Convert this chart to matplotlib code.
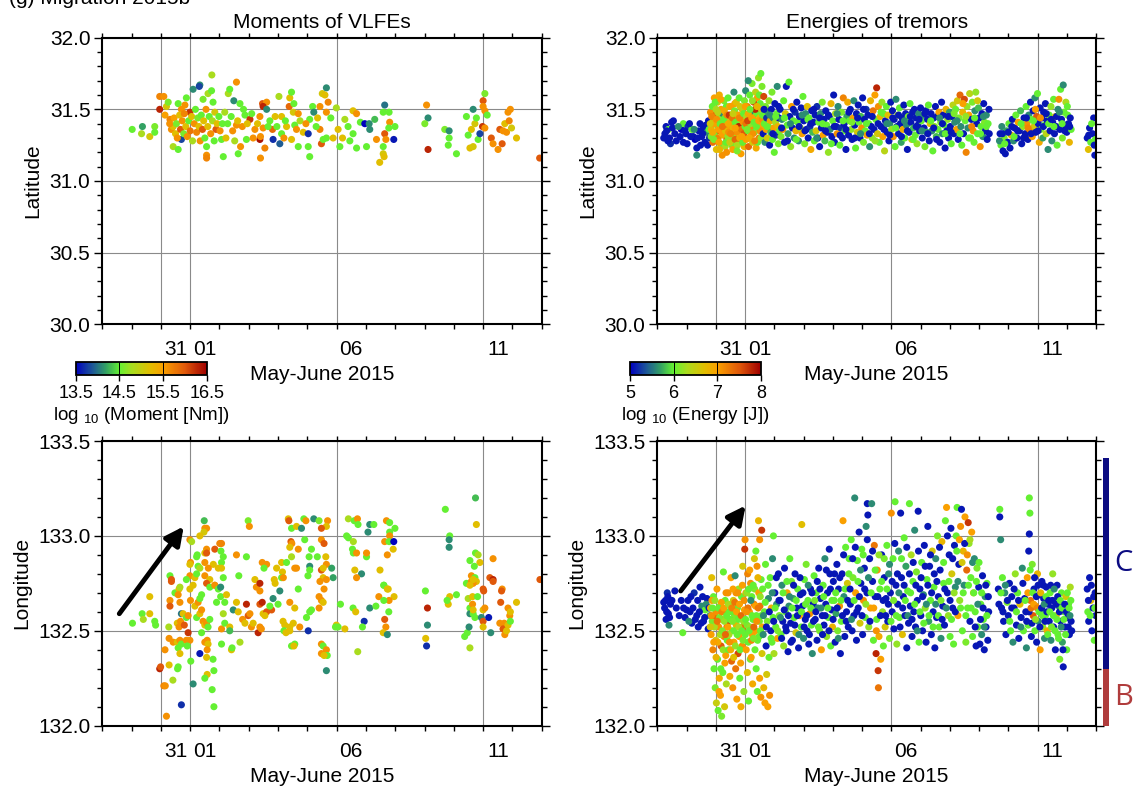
import numpy as np
import matplotlib.pyplot as plt
import matplotlib.transforms as mtransforms
from matplotlib.colors import LinearSegmentedColormap, Normalize
from matplotlib.cm import ScalarMappable
from matplotlib.patches import Rectangle
from matplotlib.ticker import FixedLocator, FixedFormatter, MultipleLocator, FormatStrFormatter

plt.rcParams['font.family'] = ['Liberation Sans', 'DejaVu Sans']
plt.rcParams['mathtext.fontset'] = 'custom'
plt.rcParams['mathtext.rm'] = 'Liberation Sans'
plt.rcParams['mathtext.it'] = 'Liberation Sans:italic'
plt.rcParams['mathtext.bf'] = 'Liberation Sans:bold'

# time axis in days relative to 2015-06-01 00:00
day_limits = (-3, 12)
day_grid = [-1, 0, 5, 10]
day_labels = ['31', '01', '06', '11']

lat_limits = (30.0, 32.0)
lon_limits = (132.0, 133.5)

moment_range = (13.5, 16.5)
moment_ticks = [13.5, 14.5, 15.5, 16.5]
energy_range = (5, 8)
energy_ticks = [5, 6, 7, 8]

# along-strike segments beside the tremor longitude panel
segment_names = ['B', 'C']
segment_edges = [132.0, 132.30, 133.41]
segment_colors = ['#b03c3c', '#0c0c82']

# migration arrows (day, longitude): tail, head
vlfe_arrow = [(-2.42, 132.59), (-0.22, 133.05)]
tremor_arrow = [(-2.20, 132.71), (0.02, 133.16)]

# VLFEs: (day, latitude, log10 moment)
vlfe_lat_pts = [
    (-1.98, 31.36, 14.5), (-1.66, 31.33, 14.8), (-1.63, 31.38, 14.2), (-1.38, 31.31, 15.1),
    (-1.21, 31.38, 14.6), (-1.21, 31.34, 14.5), (-1.04, 31.59, 15.7), (-0.90, 31.59, 15.6),
    (-1.04, 31.50, 16.3), (-0.86, 31.46, 15.5), (-0.81, 31.52, 15.1), (-0.75, 31.55, 14.6),
    (-0.69, 31.43, 15.7), (-0.64, 31.36, 15.6), (-0.58, 31.38, 15.2), (-0.58, 31.24, 14.8),
    (-0.41, 31.22, 14.5), (-0.41, 31.54, 14.5), (-0.30, 31.50, 15.6), (-0.18, 31.53, 15.6),
    (-0.13, 31.58, 14.5), (-0.30, 31.29, 13.8), (-0.01, 31.48, 16.2), (0.10, 31.64, 14.1),
    (0.33, 31.67, 14.1), (0.31, 31.66, 13.8), (0.44, 31.57, 14.6), (0.61, 31.61, 14.8),
    (0.73, 31.63, 14.5), (0.74, 31.74, 14.8), (0.78, 31.55, 14.5), (0.84, 31.48, 15.1),
    (0.88, 31.36, 16.0), (0.56, 31.24, 14.5), (0.56, 31.18, 15.6), (0.56, 31.16, 15.7),
    (1.07, 31.29, 14.5), (1.13, 31.17, 14.5), (1.30, 31.61, 14.8), (1.35, 31.64, 14.5),
    (1.49, 31.56, 14.1), (1.58, 31.69, 15.6), (1.58, 31.39, 15.6), (1.70, 31.54, 14.5),
    (1.87, 31.46, 14.5), (2.04, 31.43, 16.2), (1.92, 31.29, 14.5), (1.72, 31.24, 15.6),
    (1.64, 31.19, 14.5), (2.21, 31.36, 15.6), (2.38, 31.45, 15.6), (2.47, 31.54, 16.0),
    (2.61, 31.55, 15.6), (2.49, 31.52, 16.3), (2.61, 31.50, 14.1), (2.38, 31.29, 16.4),
    (2.40, 31.31, 15.6), (2.49, 31.37, 15.6), (2.40, 31.16, 15.6), (2.55, 31.23, 15.7),
    (2.72, 31.42, 14.5), (2.83, 31.29, 13.7), (2.81, 31.36, 15.9), (3.03, 31.59, 14.8),
    (3.12, 31.45, 15.2), (3.12, 31.33, 14.5), (3.06, 31.26, 13.9), (3.29, 31.38, 15.2),
    (3.38, 31.52, 15.9), (3.40, 31.58, 15.2), (3.46, 31.62, 14.5), (3.54, 31.54, 14.5),
    (3.52, 31.48, 15.1), (3.69, 31.47, 15.6), (3.57, 31.39, 14.5), (3.63, 31.36, 15.6),
    (3.46, 31.29, 15.2), (3.69, 31.24, 14.5), (3.86, 31.34, 15.2), (4.03, 31.33, 13.7),
    (4.03, 31.24, 14.5), (4.08, 31.17, 14.5), (4.08, 31.43, 14.5), (4.18, 31.52, 14.5),
    (4.22, 31.48, 14.1), (4.43, 31.52, 15.6), (4.51, 31.61, 15.1), (4.65, 31.65, 14.1),
    (4.65, 31.48, 15.6), (4.60, 31.60, 15.2), (4.71, 31.55, 15.7), (4.43, 31.36, 15.7),
    (4.48, 31.26, 16.0), (4.54, 31.29, 14.5), (4.65, 31.30, 14.5), (4.88, 31.30, 15.2),
    (4.99, 31.51, 14.8), (5.05, 31.36, 15.2), (5.11, 31.24, 14.5), (5.28, 31.43, 14.8),
    (5.39, 31.38, 14.5), (5.56, 31.49, 15.2), (5.68, 31.47, 15.6), (5.56, 31.33, 14.5),
    (5.68, 31.23, 14.5), (5.81, 31.41, 14.5), (5.96, 31.40, 13.5), (6.11, 31.40, 14.1),
    (6.13, 31.36, 14.1), (6.30, 31.43, 14.3), (6.02, 31.24, 14.5), (6.36, 31.29, 15.6),
    (6.64, 31.53, 14.0), (6.59, 31.48, 14.5), (6.79, 31.48, 14.5), (6.64, 31.33, 16.0),
    (6.68, 31.29, 15.6), (6.81, 31.41, 15.6), (6.78, 31.37, 14.5), (6.95, 31.29, 13.6),
    (6.99, 31.38, 14.5), (6.59, 31.19, 15.1), (6.62, 31.17, 15.2), (6.59, 31.24, 14.5),
    (6.47, 31.13, 15.2), (8.07, 31.53, 15.6), (8.12, 31.44, 14.1), (8.01, 31.40, 14.6),
    (8.12, 31.22, 16.3), (8.69, 31.36, 14.6), (8.84, 31.35, 14.1), (8.84, 31.30, 14.5),
    (8.81, 31.25, 14.5), (9.09, 31.19, 14.5), (9.43, 31.45, 14.5), (9.66, 31.50, 14.1),
    (9.72, 31.40, 15.1), (9.60, 31.36, 15.2), (9.49, 31.32, 14.5), (9.55, 31.23, 15.2),
    (9.66, 31.24, 15.1), (9.83, 31.29, 14.5), (9.77, 31.44, 14.5), (10.06, 31.61, 14.6),
    (10.00, 31.56, 16.0), (10.00, 31.52, 15.6), (10.06, 31.49, 15.6), (10.14, 31.46, 14.5),
    (9.98, 31.38, 16.2), (9.89, 31.33, 13.8), (10.06, 31.37, 15.6), (10.28, 31.30, 16.0),
    (10.34, 31.26, 15.6), (10.51, 31.22, 15.6), (10.65, 31.26, 16.0), (10.74, 31.40, 15.2),
    (10.85, 31.48, 15.6), (10.93, 31.50, 15.6), (10.89, 31.42, 15.7), (10.57, 31.36, 16.0),
    (10.68, 31.35, 15.6), (10.80, 31.34, 15.6), (10.97, 31.37, 15.1), (11.14, 31.30, 15.2),
    (11.93, 31.16, 16.0),
    (-0.70, 31.40, 15.6), (-0.55, 31.44, 15.5), (-0.50, 31.33, 15.2), (-0.47, 31.40, 14.6),
    (-0.44, 31.30, 15.6), (-0.36, 31.46, 15.2), (-0.33, 31.36, 16.0), (-0.27, 31.42, 15.6),
    (-0.22, 31.33, 14.6), (-0.20, 31.47, 15.7), (-0.15, 31.38, 15.2), (-0.10, 31.31, 15.6),
    (-0.05, 31.42, 14.5), (0.00, 31.35, 15.8), (0.05, 31.45, 15.2), (0.08, 31.28, 14.8),
    (0.14, 31.40, 15.6), (0.18, 31.50, 14.5), (0.22, 31.34, 15.7), (0.26, 31.44, 14.6),
    (0.30, 31.38, 15.2), (0.34, 31.28, 15.6), (0.38, 31.46, 14.5), (0.42, 31.36, 16.0),
    (0.46, 31.42, 15.2), (0.50, 31.30, 14.5), (0.54, 31.50, 15.6), (0.60, 31.38, 15.2),
    (0.65, 31.45, 14.5), (0.70, 31.33, 15.6), (0.76, 31.42, 14.8), (0.82, 31.28, 14.5),
    (0.92, 31.40, 15.2), (0.98, 31.45, 14.5), (1.02, 31.35, 15.6), (1.10, 31.40, 14.5),
    (1.18, 31.48, 14.8), (1.22, 31.30, 15.2), (1.28, 31.40, 14.5), (1.40, 31.45, 14.5),
    (1.45, 31.35, 15.6), (1.52, 31.28, 14.8), (1.62, 31.42, 15.2), (1.78, 31.38, 15.6),
    (1.82, 31.50, 14.5), (1.95, 31.40, 15.2), (2.10, 31.47, 14.5), (2.15, 31.30, 15.6),
    (2.30, 31.40, 15.2), (2.66, 31.38, 14.5), (2.90, 31.45, 15.2), (2.96, 31.38, 14.5),
    (3.20, 31.30, 15.6), (3.25, 31.42, 14.5), (3.75, 31.42, 14.8), (3.95, 31.40, 15.6),
    (4.30, 31.38, 14.5), (4.35, 31.44, 15.2), (4.80, 31.44, 14.5), (5.20, 31.30, 15.2),
    (5.45, 31.28, 14.5),
]

# VLFEs: (day, longitude, log10 moment)
vlfe_lon_pts = [
    (0.48, 133.08, 14.3), (0.50, 133.04, 15.6), (0.56, 133.04, 15.6), (0.47, 133.02, 15.1),
    (0.33, 133.00, 15.2), (-0.01, 132.98, 15.6), (0.05, 132.97, 14.8), (1.01, 132.96, 15.7),
    (1.07, 132.96, 15.7), (0.56, 132.93, 15.6), (0.84, 132.93, 16.0), (1.05, 132.92, 14.5),
    (0.24, 132.90, 14.5), (0.22, 132.89, 14.5), (0.50, 132.91, 15.2), (0.56, 132.91, 16.0),
    (1.13, 132.89, 14.5), (1.07, 132.86, 14.5), (0.01, 132.86, 15.6), (-0.01, 132.85, 15.2),
    (0.27, 132.84, 14.5), (0.33, 132.83, 14.8), (0.50, 132.86, 15.6), (0.79, 132.85, 15.2),
    (1.07, 132.83, 15.2), (0.96, 132.83, 15.2), (0.62, 132.83, 15.6), (-0.69, 132.79, 14.5),
    (-0.64, 132.77, 16.0), (-0.01, 132.79, 15.6), (0.16, 132.78, 15.2), (0.22, 132.80, 14.5),
    (0.50, 132.79, 15.6), (0.67, 132.77, 15.2), (1.13, 132.78, 14.5), (-0.13, 132.77, 14.5),
    (0.56, 132.75, 16.0), (0.84, 132.74, 15.6),
    (1.98, 133.08, 14.6), (2.02, 133.05, 15.6), (1.58, 132.90, 15.6), (1.92, 132.89, 14.5),
    (1.66, 132.79, 14.5), (2.46, 132.86, 15.6), (2.61, 132.85, 15.6), (2.52, 132.83, 14.5),
    (3.12, 132.86, 15.2), (2.95, 132.83, 15.2), (3.15, 132.81, 15.2), (3.29, 132.86, 14.5),
    (3.35, 133.09, 15.2), (3.37, 133.08, 16.0), (3.46, 133.04, 14.5), (3.63, 133.05, 15.2),
    (3.88, 133.09, 14.5), (3.95, 133.08, 15.6), (3.80, 133.04, 14.1), (4.22, 133.09, 14.1),
    (4.40, 133.08, 14.6), (4.69, 133.08, 15.6), (4.65, 133.05, 15.2), (4.48, 133.04, 16.0),
    (3.44, 132.97, 16.0), (3.47, 132.96, 15.6), (3.40, 132.94, 15.2), (3.69, 132.93, 15.6),
    (3.46, 132.89, 14.8), (3.91, 132.98, 14.5), (4.48, 132.98, 15.6), (4.57, 132.96, 16.0),
    (4.14, 132.93, 14.5), (4.06, 132.89, 14.5), (4.34, 132.89, 14.5), (4.63, 132.89, 15.2),
    (4.08, 132.84, 14.1), (4.08, 132.82, 14.5), (4.02, 132.79, 14.5), (4.48, 132.82, 16.0),
    (4.65, 132.85, 15.6), (4.54, 132.83, 15.2), (3.57, 132.83, 15.6), (3.63, 132.83, 15.6),
    (3.12, 132.78, 14.5), (2.90, 132.75, 15.2), (3.18, 132.78, 15.6),
    (4.83, 132.83, 14.2), (4.88, 132.78, 14.2), (4.54, 132.78, 15.2), (4.43, 132.76, 15.6),
    (5.40, 133.09, 14.8), (5.60, 133.08, 14.5), (5.71, 133.09, 15.6), (5.73, 133.06, 14.5),
    (5.34, 133.00, 14.5), (5.40, 132.99, 14.5), (5.57, 132.97, 14.8), (5.54, 132.93, 14.5),
    (5.57, 132.91, 14.5), (5.68, 132.91, 15.6), (6.02, 132.89, 14.5), (6.02, 132.91, 15.6),
    (5.62, 132.82, 15.2), (5.85, 132.80, 14.1), (5.68, 132.78, 15.6), (6.48, 132.82, 15.2),
    (6.07, 133.02, 14.1), (6.13, 133.06, 14.1), (6.27, 133.06, 14.5),
    (6.70, 133.08, 15.6), (6.81, 133.07, 14.5), (6.99, 133.04, 14.5), (6.81, 133.02, 14.5),
    (6.81, 133.00, 15.6), (6.64, 132.97, 15.6), (6.79, 132.97, 14.5), (6.95, 132.97, 13.5),
    (6.93, 132.93, 15.2), (6.73, 132.90, 15.6), (6.61, 132.74, 14.5), (6.76, 132.72, 15.2),
    (8.71, 133.14, 14.5), (8.86, 133.00, 14.5), (8.84, 132.98, 14.1), (8.84, 132.94, 14.1),
    (9.74, 133.20, 14.3), (9.77, 133.06, 15.2), (9.74, 132.91, 14.5), (9.83, 132.90, 14.8),
    (9.55, 132.87, 14.5), (9.89, 132.86, 15.2), (9.70, 132.84, 14.5), (10.34, 132.88, 15.6),
    (9.60, 132.79, 15.6), (9.72, 132.78, 14.5), (9.77, 132.76, 15.2), (9.66, 132.75, 15.6),
    (9.43, 132.75, 14.5), (10.23, 132.78, 16.0), (10.34, 132.77, 16.3), (10.00, 132.72, 16.0),
    (10.65, 132.72, 15.6), (11.94, 132.77, 16.0),
    (-1.97, 132.54, 14.5), (-1.64, 132.59, 14.5), (-1.60, 132.56, 14.8), (-1.38, 132.68, 15.2),
    (-1.38, 132.59, 15.2), (-1.21, 132.55, 14.5), (-1.18, 132.53, 14.5), (-0.73, 132.52, 14.8),
    (-0.72, 132.46, 15.6), (-0.69, 132.66, 15.6), (-0.69, 132.63, 16.0), (-0.64, 132.76, 16.0),
    (-0.52, 132.70, 14.5), (-0.38, 132.72, 15.2), (-0.35, 132.73, 14.8), (-0.41, 132.69, 15.6),
    (-0.35, 132.65, 15.6), (-0.30, 132.59, 14.0), (-0.44, 132.54, 15.2), (-0.38, 132.52, 15.6),
    (-0.33, 132.55, 15.6), (-0.58, 132.44, 15.6), (-0.44, 132.44, 15.2), (-0.35, 132.45, 15.6),
    (-0.30, 132.43, 14.5), (-0.41, 132.41, 14.5), (-0.35, 132.38, 15.2), (-0.86, 132.40, 15.6),
    (-0.72, 132.32, 15.2), (-1.04, 132.30, 16.3), (-1.01, 132.31, 16.0), (-0.90, 132.21, 15.7),
    (-0.85, 132.21, 15.6), (-0.81, 132.05, 15.6), (-0.59, 132.24, 14.8), (-0.43, 132.30, 14.5),
    (-0.41, 132.31, 14.5), (-0.30, 132.11, 13.7), (-0.24, 132.59, 15.2), (-0.13, 132.57, 14.5),
    (-0.07, 132.58, 15.6), (-0.20, 132.53, 16.0), (-0.07, 132.49, 16.2), (-0.13, 132.45, 15.6),
    (-0.01, 132.45, 15.6), (-0.10, 132.42, 14.5), (0.02, 132.34, 14.5), (0.10, 132.22, 14.1),
    (0.01, 132.66, 15.6), (-0.01, 132.72, 15.2), (0.10, 132.74, 15.2), (0.16, 132.63, 15.2),
    (0.27, 132.65, 15.6), (0.33, 132.67, 14.5), (0.39, 132.69, 14.5), (0.22, 132.57, 14.5),
    (0.33, 132.59, 15.2), (0.39, 132.61, 15.6), (0.44, 132.55, 15.6), (0.50, 132.53, 15.2),
    (0.56, 132.54, 15.6), (0.67, 132.56, 14.5), (0.61, 132.52, 14.5), (0.39, 132.49, 14.5),
    (0.50, 132.44, 15.6), (0.58, 132.45, 15.6), (0.61, 132.43, 15.2), (0.33, 132.38, 13.6),
    (0.58, 132.40, 15.6), (0.56, 132.36, 15.2), (0.78, 132.35, 14.5), (0.58, 132.27, 15.2),
    (0.50, 132.25, 14.5), (0.81, 132.29, 14.5), (0.75, 132.19, 14.5), (0.81, 132.10, 14.5),
    (0.67, 132.73, 14.5), (0.84, 132.74, 15.6), (0.96, 132.72, 14.5), (0.90, 132.65, 14.5),
    (1.04, 132.73, 14.1), (1.04, 132.68, 14.5), (1.07, 132.51, 15.6), (1.13, 132.59, 14.8),
    (1.18, 132.54, 14.5), (1.07, 132.43, 14.5), (1.24, 132.69, 15.2), (1.18, 132.65, 14.5),
    (1.35, 132.52, 15.2), (1.35, 132.50, 14.3), (1.41, 132.40, 15.2), (1.43, 132.41, 14.5),
    (1.47, 132.61, 14.1), (1.58, 132.65, 15.2), (1.64, 132.60, 15.2), (1.70, 132.44, 14.8),
    (1.79, 132.56, 15.6), (1.92, 132.64, 16.3), (1.87, 132.54, 15.2), (1.98, 132.58, 16.0),
    (2.04, 132.59, 15.6), (2.09, 132.52, 15.6), (2.15, 132.54, 15.2), (2.21, 132.77, 15.2),
    (2.26, 132.73, 15.6), (2.38, 132.75, 16.3), (2.38, 132.71, 15.6), (2.32, 132.49, 16.3),
    (2.38, 132.52, 15.6), (2.43, 132.51, 15.6), (2.38, 132.64, 16.0), (2.46, 132.65, 16.3),
    (2.49, 132.59, 15.2), (2.61, 132.60, 16.0), (2.55, 132.58, 15.2), (2.78, 132.61, 16.0),
    (2.72, 132.63, 14.5), (2.83, 132.67, 14.1), (2.87, 132.77, 15.2), (3.06, 132.71, 14.1),
    (3.00, 132.64, 14.5),
    (3.17, 132.55, 15.2), (3.23, 132.53, 15.2), (3.20, 132.50, 14.5), (3.27, 132.49, 15.2),
    (3.40, 132.52, 15.2), (3.52, 132.54, 15.2), (3.40, 132.50, 15.2), (3.40, 132.65, 15.6),
    (3.57, 132.62, 15.2), (3.69, 132.72, 14.5), (3.74, 132.52, 15.6), (3.46, 132.42, 14.5),
    (3.57, 132.43, 14.5), (3.54, 132.42, 15.2), (4.03, 132.50, 13.7), (3.97, 132.57, 14.5),
    (4.08, 132.60, 14.5), (4.14, 132.61, 14.5), (4.40, 132.68, 15.6), (4.48, 132.66, 15.6),
    (4.40, 132.62, 15.6), (4.54, 132.65, 15.2), (4.57, 132.72, 15.6), (4.65, 132.77, 15.6),
    (4.48, 132.43, 15.6), (4.48, 132.38, 15.6), (4.54, 132.42, 14.5), (4.65, 132.40, 15.6),
    (4.68, 132.37, 14.5), (4.57, 132.37, 15.2), (4.65, 132.29, 14.1),
    (4.99, 132.53, 15.2), (4.96, 132.52, 14.5), (5.05, 132.52, 14.5), (5.13, 132.64, 14.5),
    (5.28, 132.51, 15.2), (5.56, 132.62, 14.5), (5.65, 132.60, 15.2), (5.94, 132.55, 13.7),
    (5.72, 132.39, 14.8), (5.88, 132.52, 14.5), (6.13, 132.62, 14.1), (6.34, 132.63, 14.5),
    (6.44, 132.68, 15.6), (6.61, 132.74, 14.5), (6.73, 132.72, 15.2), (6.96, 132.68, 15.2),
    (6.79, 132.66, 15.6), (6.61, 132.66, 14.5), (6.78, 132.60, 14.5), (6.64, 132.56, 16.0),
    (6.68, 132.52, 15.6), (6.59, 132.49, 15.2), (6.73, 132.48, 14.1),
    (8.03, 132.71, 14.5), (8.10, 132.62, 16.3), (8.10, 132.53, 14.1), (8.04, 132.46, 15.2),
    (8.07, 132.42, 13.7),
    (8.86, 132.68, 15.2), (9.09, 132.69, 14.5), (8.81, 132.64, 15.2), (8.77, 132.66, 14.5),
    (9.37, 132.47, 14.5), (9.46, 132.49, 14.5), (9.55, 132.41, 14.8), (9.55, 132.62, 14.5),
    (9.55, 132.59, 14.1), (9.52, 132.52, 14.1), (9.66, 132.59, 14.5), (9.72, 132.57, 14.5),
    (9.49, 132.67, 14.8), (9.64, 132.68, 15.2), (9.81, 132.68, 14.5), (9.64, 132.64, 15.6),
    (9.66, 132.61, 15.2), (9.60, 132.76, 15.6), (9.55, 132.74, 15.2), (9.66, 132.77, 15.2),
    (10.02, 132.71, 16.0), (10.34, 132.76, 16.0), (10.00, 132.61, 15.2), (10.06, 132.62, 15.6),
    (9.94, 132.57, 14.1), (10.00, 132.55, 16.0), (10.19, 132.57, 13.6), (10.26, 132.49, 14.1),
    (10.63, 132.71, 16.0), (10.60, 132.65, 16.0), (10.85, 132.62, 15.6), (10.91, 132.58, 15.6),
    (10.93, 132.60, 15.2), (11.14, 132.65, 15.2), (10.57, 132.54, 15.6), (10.72, 132.54, 15.6),
    (10.68, 132.51, 16.0), (10.74, 132.48, 15.6), (10.80, 132.50, 15.2), (10.85, 132.53, 15.2),
    (10.93, 132.55, 14.5), (10.00, 132.52, 15.2),
]

# tremors: (day, latitude, log10 energy)
tremor_lat_pts = [
    (-2.74, 31.33, 5.1), (-2.70, 31.38, 5.1), (-2.62, 31.36, 6.0), (-2.58, 31.30, 5.1),
    (-2.55, 31.26, 5.2), (-2.51, 31.41, 5.1), (-2.45, 31.42, 5.1), (-2.40, 31.33, 5.1),
    (-2.18, 31.36, 5.0), (-2.11, 31.40, 6.0), (-2.11, 31.27, 5.1), (-2.02, 31.33, 5.1),
    (-1.95, 31.38, 5.2), (-1.82, 31.36, 6.0), (-1.77, 31.31, 5.1), (-1.71, 31.29, 5.0),
    (-1.65, 31.23, 5.1), (-1.65, 31.18, 5.6), (-1.58, 31.35, 5.1), (-1.54, 31.40, 5.1),
    (-1.48, 31.31, 5.1), (-1.42, 31.37, 5.1), (-1.37, 31.27, 5.1), (-1.30, 31.34, 5.6),
    (-1.25, 31.42, 5.1), (-1.22, 31.30, 5.2),
    (-2.78, 31.30, 5.1), (-2.68, 31.35, 5.1), (-2.64, 31.28, 5.1), (-2.48, 31.37, 5.1),
    (-2.35, 31.28, 5.1), (-2.28, 31.38, 5.6), (-2.22, 31.31, 5.1), (-2.06, 31.35, 5.1),
    (-1.98, 31.26, 5.1), (-1.90, 31.40, 5.1), (-1.86, 31.31, 5.1), (-1.74, 31.36, 5.6),
    (-1.62, 31.30, 5.1), (-1.52, 31.25, 5.1), (-1.45, 31.33, 5.1), (-1.34, 31.39, 5.1),
    (-1.28, 31.25, 5.1), (-1.23, 31.36, 6.0),
    (-1.18, 31.48, 7.1), (-1.15, 31.36, 6.8), (-1.12, 31.52, 6.0), (-1.10, 31.27, 7.3),
    (-1.08, 31.42, 6.5), (-1.05, 31.58, 7.0), (-1.03, 31.33, 6.1), (-1.00, 31.46, 7.4),
    (-0.98, 31.22, 6.7), (-0.96, 31.39, 6.0), (-0.94, 31.55, 6.6), (-0.92, 31.30, 7.2),
    (-0.90, 31.44, 6.2), (-0.88, 31.60, 6.9), (-0.86, 31.35, 7.6), (-0.84, 31.26, 6.0),
    (-0.82, 31.50, 7.0), (-0.80, 31.40, 6.4), (-0.78, 31.18, 7.1), (-0.76, 31.47, 5.6),
    (-0.74, 31.32, 6.9), (-0.72, 31.56, 6.1), (-0.70, 31.38, 7.3), (-0.68, 31.24, 6.3),
    (-0.66, 31.45, 7.0), (-0.64, 31.52, 6.0), (-0.62, 31.29, 7.5), (-0.60, 31.41, 6.6),
    (-1.16, 31.31, 6.1), (-1.06, 31.40, 7.0), (-0.99, 31.50, 6.3), (-0.91, 31.36, 7.0),
    (-0.87, 31.22, 6.8), (-0.79, 31.33, 7.0), (-0.73, 31.43, 6.0), (-0.67, 31.35, 6.7),
    (-0.63, 31.20, 7.1),
    (-1.19, 31.40, 6.6), (-1.14, 31.45, 7.2), (-1.11, 31.34, 6.9), (-1.07, 31.29, 6.1),
    (-1.02, 31.55, 6.0), (-0.97, 31.43, 7.1), (-0.93, 31.48, 6.4), (-0.89, 31.27, 7.0),
    (-0.85, 31.40, 6.0), (-0.83, 31.57, 7.0), (-0.77, 31.38, 7.3), (-0.71, 31.49, 6.9),
    (-0.65, 31.27, 6.0), (-0.61, 31.46, 7.2), (-0.59, 31.31, 6.2), (-0.53, 31.52, 6.8),
    (-0.51, 31.36, 7.0), (-0.45, 31.25, 6.1), (-0.43, 31.40, 7.4), (-0.37, 31.32, 6.3),
    (-0.35, 31.54, 7.0), (-0.29, 31.45, 6.0), (-0.25, 31.39, 6.9), (-0.21, 31.28, 7.3),
    (-0.17, 31.52, 6.6), (-0.13, 31.44, 6.1), (-0.09, 31.38, 7.0), (-0.03, 31.24, 6.8),
    (-0.58, 31.58, 6.0), (-0.56, 31.34, 7.1), (-0.54, 31.46, 7.7), (-0.52, 31.27, 6.5),
    (-0.50, 31.40, 6.0), (-0.48, 31.52, 7.0), (-0.46, 31.31, 6.2), (-0.44, 31.44, 7.3),
    (-0.42, 31.22, 7.0), (-0.40, 31.37, 6.8), (-0.38, 31.62, 5.6), (-0.36, 31.49, 6.1),
    (-0.34, 31.29, 7.4), (-0.32, 31.41, 6.0), (-0.30, 31.55, 6.7), (-0.28, 31.34, 7.1),
    (-0.26, 31.25, 6.3), (-0.24, 31.46, 7.0), (-0.22, 31.38, 7.8), (-0.20, 31.58, 6.0),
    (-0.18, 31.30, 6.9), (-0.16, 31.43, 6.2), (-0.14, 31.19, 7.0), (-0.12, 31.36, 7.3),
    (-0.10, 31.50, 6.5), (-0.08, 31.27, 6.0), (-0.06, 31.41, 7.1), (-0.04, 31.33, 7.5),
    (-0.02, 31.56, 6.1), (-0.57, 31.40, 6.9), (-0.49, 31.33, 7.2), (-0.41, 31.47, 6.5),
    (-0.33, 31.37, 7.0), (-0.27, 31.21, 6.1), (-0.19, 31.44, 7.2), (-0.11, 31.31, 7.0),
    (-0.05, 31.47, 6.0),
    (0.00, 31.38, 6.0), (0.02, 31.63, 5.6), (0.04, 31.29, 7.0), (0.06, 31.45, 6.3),
    (0.08, 31.52, 7.2), (0.10, 31.35, 6.0), (0.12, 31.24, 7.4), (0.14, 31.42, 6.8),
    (0.16, 31.60, 6.0), (0.18, 31.31, 7.0), (0.20, 31.48, 5.6), (0.22, 31.37, 7.1),
    (0.24, 31.68, 6.1), (0.26, 31.27, 6.6), (0.28, 31.44, 7.0), (0.30, 31.55, 7.6),
    (0.32, 31.34, 6.0), (0.34, 31.40, 7.3), (0.36, 31.62, 6.4), (0.38, 31.23, 6.9),
    (0.40, 31.47, 6.0), (0.42, 31.58, 7.0), (0.44, 31.36, 6.2), (0.46, 31.72, 6.2),
    (0.48, 31.30, 7.2), (0.50, 31.44, 6.7), (0.52, 31.54, 6.0), (0.54, 31.75, 6.0),
    (0.56, 31.38, 7.0), (0.58, 31.66, 6.1), (0.03, 31.40, 7.3), (0.11, 31.47, 6.9),
    (0.19, 31.40, 6.2), (0.27, 31.33, 7.1), (0.35, 31.50, 7.8), (0.43, 31.27, 6.0),
    (0.51, 31.35, 7.1), (0.57, 31.50, 6.6), (0.11, 31.70, 5.6),
    (0.01, 31.52, 7.0), (0.07, 31.36, 6.1), (0.09, 31.42, 7.6), (0.15, 31.30, 6.9),
    (0.17, 31.50, 6.0), (0.23, 31.44, 7.0), (0.25, 31.56, 6.2), (0.31, 31.41, 6.0),
    (0.33, 31.28, 7.2), (0.39, 31.38, 6.0), (0.41, 31.52, 6.8), (0.47, 31.42, 7.0),
    (0.49, 31.60, 6.0), (0.55, 31.30, 6.2), (0.59, 31.43, 7.1),
    (0.60, 31.46, 6.0), (0.62, 31.33, 5.1), (0.64, 31.59, 7.6), (0.66, 31.40, 6.0),
    (0.68, 31.27, 5.6), (0.70, 31.52, 6.1), (0.72, 31.36, 7.0), (0.74, 31.44, 5.2),
    (0.76, 31.30, 6.6), (0.78, 31.48, 5.7), (0.80, 31.38, 6.0), (0.82, 31.56, 6.2),
    (0.84, 31.25, 5.1), (0.86, 31.42, 6.9), (0.88, 31.34, 5.8), (0.90, 31.50, 5.1),
    (0.92, 31.62, 6.1), (0.94, 31.29, 6.0), (0.96, 31.44, 5.6), (0.98, 31.37, 7.0),
    (1.00, 31.20, 6.0), (1.02, 31.54, 5.1), (1.04, 31.41, 6.3), (1.06, 31.32, 5.2),
    (1.08, 31.47, 6.0), (1.10, 31.66, 5.6), (1.12, 31.38, 6.8), (1.14, 31.26, 6.1),
    (1.16, 31.44, 5.1), (1.18, 31.35, 6.0),
    (1.20, 31.50, 5.1), (1.23, 31.31, 6.1), (1.26, 31.43, 5.6), (1.29, 31.36, 7.1),
    (1.32, 31.56, 6.0), (1.35, 31.27, 5.1), (1.38, 31.47, 6.6), (1.41, 31.66, 5.1),
    (1.44, 31.39, 6.0), (1.47, 31.33, 5.7), (1.50, 31.69, 6.0), (1.53, 31.45, 5.1),
    (1.56, 31.24, 6.2), (1.59, 31.52, 7.0), (1.62, 31.37, 5.1), (1.65, 31.42, 6.0),
    (1.68, 31.30, 5.6), (1.71, 31.48, 5.2), (1.74, 31.35, 6.8), (1.77, 31.55, 5.1),
    (1.80, 31.41, 6.0), (1.83, 31.28, 5.6), (1.86, 31.45, 5.1), (1.89, 31.37, 6.3),
    (1.92, 31.51, 5.1), (1.95, 31.33, 7.0), (1.98, 31.59, 6.0), (2.01, 31.42, 5.1),
    (2.04, 31.26, 6.1), (2.07, 31.47, 5.6), (2.10, 31.36, 5.1), (2.13, 31.52, 6.7),
    (2.16, 31.30, 5.1), (2.19, 31.44, 6.0), (2.22, 31.38, 5.2), (2.25, 31.22, 6.9),
    (2.28, 31.49, 5.1), (2.31, 31.34, 5.8), (2.34, 31.41, 5.1), (2.37, 31.28, 6.0),
    (2.40, 31.46, 5.1), (2.43, 31.35, 6.6), (2.46, 31.52, 5.2), (2.49, 31.30, 5.1),
    (2.52, 31.41, 6.0), (2.55, 31.24, 5.1), (2.58, 31.47, 5.6), (2.61, 31.37, 5.1),
    (2.64, 31.55, 6.1), (2.67, 31.32, 7.0), (2.70, 31.43, 5.1), (2.73, 31.28, 5.8),
    (2.76, 31.49, 5.1), (2.79, 31.39, 6.0), (2.82, 31.34, 5.1), (2.85, 31.20, 6.2),
    (2.88, 31.45, 5.1), (2.91, 31.36, 5.6), (2.94, 31.54, 6.8), (2.97, 31.31, 5.1),
    (3.00, 31.42, 6.0), (3.03, 31.60, 5.1), (3.06, 31.27, 5.1), (3.09, 31.47, 6.3),
    (3.12, 31.38, 5.1), (3.15, 31.33, 7.1), (3.18, 31.52, 5.6), (3.21, 31.43, 5.1),
    (3.24, 31.25, 6.0), (3.27, 31.37, 5.2), (3.30, 31.48, 6.1), (3.33, 31.30, 5.1),
    (3.36, 31.58, 7.2), (3.39, 31.40, 5.1), (3.42, 31.35, 6.0), (3.45, 31.22, 5.1),
    (3.48, 31.45, 5.7), (3.51, 31.55, 6.9), (3.54, 31.32, 5.1), (3.57, 31.42, 6.0),
    (3.60, 31.50, 5.1), (3.63, 31.36, 6.2), (3.66, 31.29, 5.1), (3.69, 31.44, 7.0),
    (3.72, 31.56, 5.6), (3.75, 31.39, 5.1), (3.78, 31.23, 6.0), (3.81, 31.47, 5.1),
    (3.84, 31.34, 6.6), (3.87, 31.53, 5.1), (3.90, 31.41, 6.0), (3.93, 31.30, 5.1),
    (3.96, 31.45, 5.8), (3.99, 31.37, 7.1), (4.02, 31.58, 5.1), (4.05, 31.27, 6.1),
    (4.08, 31.43, 5.1), (4.11, 31.35, 6.0), (4.14, 31.50, 5.2), (4.17, 31.32, 7.0),
    (4.20, 31.46, 5.1), (4.23, 31.40, 6.0), (4.26, 31.24, 5.6), (4.29, 31.56, 6.8),
    (4.32, 31.38, 5.1), (4.35, 31.30, 6.2), (4.38, 31.49, 7.3), (4.41, 31.36, 5.1),
    (4.44, 31.60, 7.0), (4.47, 31.43, 6.0), (4.50, 31.65, 7.8), (4.53, 31.33, 6.6),
    (4.56, 31.52, 7.1), (4.59, 31.27, 6.0), (4.62, 31.45, 6.8), (4.65, 31.38, 5.1),
    (4.68, 31.55, 6.2), (4.71, 31.31, 7.0), (4.74, 31.47, 6.0), (4.77, 31.21, 6.4),
    (4.80, 31.42, 5.1), (4.83, 31.52, 6.0), (4.86, 31.34, 5.1), (4.89, 31.46, 6.7),
    (4.92, 31.28, 5.1), (4.95, 31.40, 5.6), (4.98, 31.55, 5.1), (5.01, 31.36, 6.2),
    (5.04, 31.49, 5.1), (5.07, 31.31, 7.1), (5.10, 31.43, 5.1), (5.13, 31.24, 6.0),
    (5.16, 31.57, 5.6), (5.19, 31.38, 5.1), (5.22, 31.46, 6.3), (5.25, 31.33, 5.1),
    (5.28, 31.51, 6.0), (5.31, 31.40, 5.1), (5.34, 31.27, 5.7), (5.37, 31.44, 5.1),
    (5.40, 31.36, 6.9), (5.43, 31.53, 5.1), (5.46, 31.30, 6.0), (5.49, 31.47, 5.1),
    (5.52, 31.39, 5.6), (5.55, 31.22, 5.1), (5.58, 31.45, 6.1), (5.61, 31.34, 5.1),
    (5.64, 31.54, 6.0), (5.67, 31.41, 5.1), (5.70, 31.29, 6.6), (5.73, 31.48, 5.1),
    (5.76, 31.37, 5.8), (5.79, 31.50, 5.1), (5.82, 31.32, 6.0), (5.85, 31.44, 5.1),
    (5.88, 31.26, 6.2), (5.91, 31.39, 5.1), (5.94, 31.47, 5.6), (5.97, 31.35, 5.1),
    (6.00, 31.51, 5.1), (6.03, 31.42, 6.0), (6.06, 31.30, 5.1), (6.09, 31.46, 5.6),
    (6.12, 31.37, 5.1), (6.15, 31.24, 6.1), (6.18, 31.49, 5.1), (6.21, 31.34, 5.7),
    (6.24, 31.43, 5.1), (6.27, 31.53, 6.0), (6.30, 31.28, 5.1), (6.33, 31.40, 6.7),
    (6.36, 31.47, 5.1), (6.39, 31.35, 5.6), (6.42, 31.21, 6.0), (6.45, 31.44, 5.1),
    (6.48, 31.38, 6.2), (6.51, 31.52, 5.1), (6.54, 31.31, 5.8), (6.57, 31.45, 5.1),
    (6.60, 31.36, 6.0), (6.63, 31.48, 7.0), (6.66, 31.27, 5.1), (6.69, 31.41, 6.1),
    (6.72, 31.55, 5.1), (6.75, 31.33, 5.6), (6.78, 31.46, 5.1), (6.81, 31.39, 6.0),
    (6.84, 31.23, 5.1), (6.87, 31.50, 6.8), (6.90, 31.35, 5.1), (6.93, 31.43, 6.2),
    (6.96, 31.30, 5.1), (6.99, 31.48, 5.7), (7.02, 31.38, 5.1), (7.05, 31.26, 6.0),
    (7.08, 31.45, 5.1), (7.11, 31.53, 6.4), (7.14, 31.33, 5.1), (7.17, 31.41, 5.6),
    (7.20, 31.50, 6.0), (7.23, 31.36, 7.0), (7.26, 31.56, 6.6), (7.29, 31.29, 5.1),
    (7.32, 31.44, 6.1), (7.35, 31.60, 7.4), (7.38, 31.38, 5.6), (7.41, 31.25, 6.0),
    (7.44, 31.48, 6.8), (7.47, 31.33, 5.1), (7.50, 31.57, 7.6), (7.53, 31.42, 6.0),
    (7.56, 31.20, 7.2), (7.59, 31.52, 6.2), (7.62, 31.37, 5.6), (7.65, 31.46, 7.0),
    (7.68, 31.61, 6.4), (7.71, 31.30, 6.0), (7.74, 31.43, 5.1), (7.77, 31.55, 6.1),
    (7.80, 31.35, 7.1), (7.83, 31.27, 6.0), (7.86, 31.49, 5.6), (7.89, 31.62, 6.2),
    (7.92, 31.40, 5.1), (7.95, 31.33, 6.0), (7.98, 31.51, 5.8), (8.01, 31.44, 5.1),
    (8.04, 31.24, 7.1), (8.07, 31.38, 6.0), (8.10, 31.47, 5.1), (8.13, 31.31, 5.6),
    (8.16, 31.54, 5.1), (8.19, 31.41, 6.1), (8.22, 31.35, 5.1), (8.25, 31.46, 5.6),
    (8.28, 31.29, 5.1), (8.31, 31.40, 6.0), (8.34, 31.50, 5.1),
    (0.65, 31.50, 5.1), (0.75, 31.38, 6.0), (0.85, 31.46, 5.6), (0.95, 31.33, 5.1),
    (1.05, 31.45, 6.0), (1.15, 31.52, 5.1), (1.25, 31.37, 5.1), (1.35, 31.44, 6.0),
    (1.45, 31.28, 5.1), (1.55, 31.40, 5.6), (1.65, 31.50, 5.1), (1.75, 31.29, 6.0),
    (1.85, 31.38, 5.1), (1.95, 31.46, 5.6), (2.05, 31.35, 5.1), (2.15, 31.43, 6.0),
    (2.25, 31.40, 5.1), (2.35, 31.50, 5.1), (2.45, 31.30, 5.6), (2.55, 31.44, 5.1),
    (2.65, 31.40, 6.0), (2.75, 31.35, 5.1), (2.85, 31.46, 5.1), (2.95, 31.26, 6.0),
    (3.05, 31.38, 5.1), (3.15, 31.47, 5.6), (3.25, 31.32, 5.1), (3.35, 31.42, 6.0),
    (3.45, 31.36, 5.1), (3.55, 31.48, 5.1), (3.65, 31.41, 6.1), (3.75, 31.30, 5.1),
    (3.85, 31.44, 5.1), (3.95, 31.33, 5.6), (4.05, 31.50, 5.1), (4.15, 31.40, 6.0),
    (4.25, 31.33, 5.1), (4.35, 31.45, 5.1), (4.45, 31.28, 6.2), (4.55, 31.40, 5.1),
    (4.65, 31.48, 6.0), (4.75, 31.36, 5.1), (4.85, 31.40, 5.6), (4.95, 31.32, 5.1),
    (5.05, 31.44, 5.1), (5.15, 31.37, 6.0), (5.25, 31.46, 5.1), (5.35, 31.31, 5.1),
    (5.45, 31.42, 5.6), (5.55, 31.35, 5.1), (5.65, 31.45, 5.1), (5.75, 31.29, 6.0),
    (5.85, 31.38, 5.1), (5.95, 31.43, 5.1), (6.05, 31.35, 5.6), (6.15, 31.47, 5.1),
    (6.25, 31.33, 5.1), (6.35, 31.42, 6.0), (6.45, 31.37, 5.1), (6.55, 31.29, 5.1),
    (6.65, 31.44, 5.6), (6.75, 31.40, 5.1), (6.85, 31.33, 6.0), (6.95, 31.45, 5.1),
    (7.05, 31.34, 5.1), (7.15, 31.47, 6.1), (7.25, 31.42, 5.6), (7.35, 31.33, 6.0),
    (7.45, 31.54, 7.0), (7.55, 31.45, 6.2), (7.65, 31.30, 6.0), (7.75, 31.38, 7.2),
    (7.85, 31.44, 6.0), (7.95, 31.56, 6.6), (8.05, 31.33, 6.0), (8.15, 31.45, 5.6),
    (8.25, 31.38, 6.0), (8.35, 31.33, 5.1),
    (8.72, 31.33, 5.1), (8.75, 31.25, 6.0), (8.78, 31.38, 5.6), (8.82, 31.21, 5.1),
    (8.86, 31.30, 6.1), (8.90, 31.19, 5.1), (8.94, 31.35, 5.7), (8.98, 31.27, 5.1),
    (9.02, 31.40, 6.0), (9.06, 31.23, 5.1), (9.10, 31.32, 6.8), (9.14, 31.43, 5.1),
    (9.18, 31.28, 5.6), (9.22, 31.37, 5.1), (9.26, 31.46, 6.0), (9.30, 31.30, 5.1),
    (9.34, 31.41, 7.0), (9.38, 31.35, 5.1), (9.42, 31.49, 5.8), (9.46, 31.26, 5.1),
    (9.50, 31.38, 6.2), (9.54, 31.44, 5.1),
    (9.58, 31.33, 5.1), (9.61, 31.52, 6.0), (9.64, 31.40, 7.1), (9.67, 31.29, 5.1),
    (9.70, 31.46, 5.6), (9.73, 31.36, 7.3), (9.76, 31.55, 5.1), (9.79, 31.43, 6.0),
    (9.82, 31.31, 7.0), (9.85, 31.49, 5.1), (9.88, 31.38, 6.6), (9.91, 31.58, 5.6),
    (9.94, 31.34, 5.1), (9.97, 31.45, 7.5), (10.00, 31.61, 6.0), (10.03, 31.40, 5.1),
    (10.06, 31.27, 6.9), (10.09, 31.51, 5.1), (10.12, 31.36, 6.1), (10.15, 31.44, 5.1),
    (10.18, 31.30, 5.7), (10.21, 31.48, 5.1), (10.24, 31.39, 6.0), (10.27, 31.54, 5.1),
    (10.30, 31.33, 6.4), (10.33, 31.42, 5.1), (10.36, 31.22, 5.6),
    (10.40, 31.46, 6.0), (10.43, 31.35, 5.1), (10.46, 31.52, 6.2), (10.49, 31.28, 5.6),
    (10.52, 31.41, 5.1), (10.55, 31.57, 6.0), (10.58, 31.33, 5.1), (10.61, 31.45, 6.7),
    (10.64, 31.38, 5.1), (10.67, 31.25, 6.0), (10.70, 31.50, 5.6), (10.73, 31.57, 7.1),
    (10.76, 31.36, 5.1), (10.79, 31.64, 6.0), (10.82, 31.43, 5.1), (10.85, 31.30, 6.1),
    (10.88, 31.67, 5.6), (10.91, 31.48, 6.0), (10.94, 31.39, 5.1), (10.97, 31.55, 6.3),
    (11.00, 31.34, 5.1), (11.03, 31.46, 6.0), (11.06, 31.40, 5.1), (11.09, 31.27, 6.8),
    (11.12, 31.44, 5.1), (11.15, 31.36, 6.0),
    (8.70, 31.28, 5.6), (8.80, 31.33, 5.1), (8.88, 31.26, 6.0), (9.00, 31.34, 5.1),
    (9.12, 31.38, 5.1), (9.20, 31.31, 6.0), (9.32, 31.35, 5.1), (9.44, 31.40, 6.0),
    (9.52, 31.30, 5.1), (9.62, 31.44, 5.1), (9.68, 31.37, 7.2), (9.78, 31.33, 5.1),
    (9.86, 31.42, 6.0), (9.93, 31.50, 7.0), (10.02, 31.35, 5.1), (10.10, 31.44, 7.1),
    (10.20, 31.38, 5.1), (10.30, 31.47, 5.1), (10.38, 31.40, 6.0), (10.47, 31.43, 5.1),
    (10.56, 31.38, 6.0), (10.65, 31.45, 5.1), (10.75, 31.48, 5.6), (10.84, 31.40, 6.0),
    (10.93, 31.35, 5.1), (11.02, 31.52, 6.0), (11.10, 31.38, 5.1),
    (11.70, 31.30, 5.1), (11.74, 31.22, 6.7), (11.78, 31.37, 5.1), (11.82, 31.27, 6.0),
    (11.88, 31.33, 5.1), (11.92, 31.44, 5.1), (11.96, 31.18, 5.1), (11.98, 31.29, 6.0),
    (11.75, 31.32, 5.1), (11.85, 31.40, 6.0), (11.94, 31.25, 5.1),
]

# tremors: (day, longitude, log10 energy)
tremor_lon_pts = [
    (-2.75, 132.62, 5.1), (-2.72, 132.66, 5.1), (-2.70, 132.56, 5.1), (-2.66, 132.70, 5.2),
    (-2.62, 132.59, 5.1), (-2.60, 132.53, 5.6), (-2.55, 132.64, 5.1), (-2.40, 132.71, 5.1),
    (-2.13, 132.49, 6.0), (-2.10, 132.62, 5.1), (-2.05, 132.57, 5.1), (-1.95, 132.66, 5.1),
    (-1.88, 132.60, 5.1), (-1.82, 132.54, 5.1), (-1.74, 132.70, 5.2), (-1.65, 132.58, 5.1),
    (-1.60, 132.52, 5.1), (-1.54, 132.73, 5.1), (-1.48, 132.63, 5.6), (-1.42, 132.55, 5.1),
    (-1.36, 132.61, 6.0), (-1.30, 132.67, 5.1), (-1.26, 132.51, 5.1), (-1.20, 132.58, 5.7),
    (-2.78, 132.65, 5.1), (-2.68, 132.60, 5.1), (-2.64, 132.68, 5.1), (-2.58, 132.57, 5.1),
    (-2.50, 132.66, 5.1), (-2.35, 132.62, 5.1), (-2.25, 132.58, 5.1), (-2.18, 132.66, 5.1),
    (-2.00, 132.61, 5.1), (-1.92, 132.55, 5.6), (-1.85, 132.68, 5.1), (-1.78, 132.62, 5.1),
    (-1.70, 132.56, 5.1), (-1.62, 132.66, 5.1), (-1.56, 132.60, 5.1), (-1.50, 132.54, 5.1),
    (-1.45, 132.68, 5.1), (-1.38, 132.57, 5.1), (-1.33, 132.64, 5.6), (-1.23, 132.62, 5.1),
    (-1.18, 132.62, 6.8), (-1.16, 132.48, 7.0), (-1.14, 132.78, 6.7), (-1.12, 132.55, 6.1),
    (-1.10, 132.40, 7.2), (-1.08, 132.68, 6.0), (-1.06, 132.30, 6.0), (-1.04, 132.58, 7.4),
    (-1.02, 132.20, 6.1), (-1.00, 132.45, 6.6), (-0.98, 132.12, 6.5), (-0.96, 132.72, 7.0),
    (-0.94, 132.35, 6.0), (-0.92, 132.08, 6.0), (-0.90, 132.52, 7.1), (-0.88, 132.25, 6.9),
    (-0.86, 132.63, 6.2), (-0.84, 132.16, 7.0), (-0.82, 132.42, 7.5), (-0.80, 132.05, 6.1),
    (-0.78, 132.56, 6.8), (-0.76, 132.28, 6.0), (-0.74, 132.81, 6.0), (-0.72, 132.47, 7.2),
    (-0.70, 132.10, 6.6), (-0.68, 132.66, 6.0), (-0.66, 132.37, 7.0), (-0.64, 132.22, 6.3),
    (-0.62, 132.52, 7.3), (-0.60, 132.60, 6.0), (-1.13, 132.66, 7.0), (-1.05, 132.52, 6.3),
    (-0.99, 132.60, 7.1), (-0.93, 132.44, 6.9), (-0.87, 132.57, 6.1), (-0.81, 132.65, 7.0),
    (-0.75, 132.40, 6.2), (-0.69, 132.33, 7.0), (-0.65, 132.70, 7.1), (-0.61, 132.45, 6.0),
    (-0.58, 132.70, 7.1), (-0.56, 132.40, 6.0), (-0.54, 132.55, 7.7), (-0.52, 132.26, 6.9),
    (-0.50, 132.63, 6.2), (-0.48, 132.78, 7.0), (-0.46, 132.34, 7.4), (-0.44, 132.50, 6.0),
    (-0.42, 132.20, 7.1), (-0.40, 132.66, 6.6), (-0.38, 132.44, 7.0), (-0.36, 132.58, 6.1),
    (-0.34, 132.79, 5.6), (-0.32, 132.30, 7.3), (-0.30, 132.53, 6.8), (-0.28, 132.14, 7.0),
    (-0.26, 132.62, 6.0), (-0.24, 132.38, 7.6), (-0.22, 132.72, 6.2), (-0.20, 132.47, 7.0),
    (-0.18, 132.25, 6.0), (-0.16, 132.57, 7.2), (-0.14, 132.10, 6.9), (-0.12, 132.68, 6.0),
    (-0.10, 132.42, 7.1), (-0.08, 132.84, 6.6), (-0.06, 132.52, 7.4), (-0.04, 132.18, 6.2),
    (-0.02, 132.61, 7.0), (0.00, 132.98, 7.1), (-0.55, 132.48, 6.3), (-0.47, 132.60, 6.0),
    (-0.39, 132.36, 6.7), (-0.31, 132.70, 7.1), (-0.23, 132.56, 6.0), (-0.15, 132.33, 7.0),
    (-0.07, 132.45, 6.1), (-0.01, 132.93, 7.7),
    (-1.19, 132.52, 6.6), (-1.15, 132.58, 7.1), (-1.11, 132.62, 6.0), (-1.07, 132.44, 7.0),
    (-1.03, 132.66, 6.2), (-0.99, 132.36, 6.8), (-0.95, 132.55, 7.3), (-0.91, 132.62, 6.0),
    (-0.89, 132.18, 7.0), (-0.85, 132.48, 6.3), (-0.83, 132.30, 6.0), (-0.79, 132.60, 7.2),
    (-0.77, 132.50, 6.1), (-0.73, 132.62, 7.0), (-0.71, 132.55, 6.2), (-0.67, 132.48, 7.4),
    (-0.63, 132.58, 6.0), (-0.59, 132.52, 7.0), (-0.57, 132.64, 6.3), (-0.53, 132.44, 7.1),
    (-0.51, 132.56, 6.0), (-0.49, 132.40, 6.9), (-0.45, 132.62, 7.2), (-0.43, 132.55, 6.1),
    (-0.41, 132.72, 7.0), (-0.37, 132.50, 6.0), (-0.35, 132.65, 7.3), (-0.33, 132.42, 6.2),
    (-0.29, 132.60, 7.0), (-0.27, 132.48, 6.0), (-0.25, 132.70, 7.1), (-0.21, 132.52, 6.3),
    (-0.19, 132.64, 7.0), (-0.17, 132.40, 6.0), (-0.13, 132.58, 7.4), (-0.11, 132.50, 6.0),
    (-0.09, 132.74, 7.0), (-0.05, 132.55, 6.2), (-0.03, 132.66, 7.1), (0.01, 132.48, 6.0),
    (0.03, 132.70, 7.0), (0.07, 132.53, 6.1), (0.09, 132.80, 7.2), (0.11, 132.44, 6.0),
    (0.15, 132.60, 7.0), (0.17, 132.52, 6.2), (0.19, 132.75, 7.1), (0.23, 132.68, 6.0),
    (0.25, 132.48, 7.0), (0.27, 132.56, 6.0), (0.31, 132.64, 7.2), (0.33, 132.72, 6.1),
    (0.35, 132.50, 7.0), (0.39, 132.58, 6.0), (0.41, 132.84, 7.1), (0.43, 132.45, 6.0),
    (0.47, 132.70, 7.0), (0.49, 132.55, 6.1), (0.51, 132.63, 7.3), (0.55, 132.77, 6.0),
    (0.59, 132.52, 6.9),
    (0.02, 132.56, 6.0), (0.04, 132.40, 7.0), (0.06, 132.70, 6.2), (0.08, 132.28, 6.7),
    (0.10, 132.62, 7.3), (0.12, 132.13, 6.0), (0.14, 132.50, 6.0), (0.16, 132.82, 7.0),
    (0.18, 132.35, 6.1), (0.20, 132.66, 5.6), (0.22, 132.45, 7.2), (0.24, 132.58, 6.0),
    (0.26, 132.22, 6.9), (0.28, 132.74, 6.0), (0.30, 132.52, 7.4), (0.32, 132.88, 6.6),
    (0.34, 132.40, 6.0), (0.36, 132.63, 7.0), (0.38, 132.30, 6.0), (0.40, 132.55, 7.1),
    (0.42, 132.18, 6.0), (0.44, 132.78, 6.8), (0.46, 133.08, 6.8), (0.48, 132.47, 6.0),
    (0.50, 132.25, 7.0), (0.52, 132.68, 6.2), (0.54, 132.15, 7.1), (0.56, 132.58, 6.0),
    (0.57, 133.03, 7.7), (0.58, 132.38, 6.6), (0.05, 132.60, 7.1), (0.13, 132.72, 6.0),
    (0.21, 132.36, 7.0), (0.29, 132.46, 6.1), (0.37, 132.92, 6.0), (0.45, 132.62, 7.3),
    (0.53, 132.50, 6.0), (0.50, 132.98, 7.1),
    (0.60, 132.72, 6.0), (0.62, 132.48, 5.6), (0.64, 132.20, 6.8), (0.66, 132.60, 6.0),
    (0.68, 132.12, 7.0), (0.70, 132.85, 6.0), (0.72, 132.42, 5.1), (0.74, 132.27, 6.6),
    (0.76, 132.55, 6.1), (0.78, 132.10, 7.0), (0.80, 132.67, 5.6), (0.82, 132.36, 6.0),
    (0.84, 132.16, 7.1), (0.86, 132.78, 6.0), (0.88, 132.50, 5.1), (0.90, 132.62, 6.9),
    (0.92, 132.44, 6.0), (0.94, 132.88, 5.6), (0.96, 132.57, 6.0), (0.97, 133.00, 6.0),
    (0.99, 132.38, 6.3), (1.02, 132.70, 5.1), (1.05, 132.52, 6.0), (1.08, 132.64, 5.6),
    (1.11, 132.46, 7.0), (1.14, 132.80, 5.1), (1.17, 132.58, 6.1),
    (1.20, 132.66, 5.1), (1.23, 132.48, 6.0), (1.26, 132.74, 5.6), (1.29, 132.55, 5.1),
    (1.32, 132.42, 6.2), (1.35, 132.83, 5.1), (1.38, 132.60, 6.0), (1.41, 132.50, 5.1),
    (1.44, 132.70, 7.0), (1.47, 132.39, 5.1), (1.50, 132.63, 5.6), (1.53, 132.88, 6.0),
    (1.56, 132.54, 5.1), (1.59, 132.76, 6.1), (1.62, 132.45, 5.1), (1.65, 132.67, 5.7),
    (1.68, 132.57, 6.0), (1.71, 132.80, 5.1), (1.74, 132.49, 6.6), (1.77, 132.62, 5.1),
    (1.80, 132.72, 6.0), (1.83, 132.41, 5.1), (1.86, 132.58, 7.0), (1.89, 132.69, 5.1),
    (1.92, 132.52, 6.0), (1.94, 133.06, 6.7), (1.97, 132.63, 5.1), (2.00, 132.46, 5.6),
    (2.03, 132.77, 6.0), (2.06, 132.56, 5.1), (2.09, 132.85, 6.1), (2.12, 132.50, 5.1),
    (2.15, 132.66, 6.0), (2.18, 132.43, 5.1), (2.21, 132.59, 7.1), (2.24, 132.72, 5.1),
    (2.27, 132.53, 6.0), (2.30, 132.38, 5.6), (2.33, 132.64, 5.1), (2.36, 132.79, 6.0),
    (2.40, 132.56, 5.1), (2.43, 132.70, 6.0), (2.46, 132.45, 5.1), (2.49, 132.62, 5.6),
    (2.52, 132.83, 5.1), (2.55, 132.50, 6.1), (2.58, 132.67, 5.1), (2.61, 132.40, 7.0),
    (2.64, 132.58, 5.1), (2.67, 132.74, 6.0), (2.70, 132.53, 5.1), (2.73, 132.88, 5.6),
    (2.76, 132.64, 5.1), (2.79, 132.47, 6.2), (2.82, 132.70, 5.1), (2.85, 132.57, 6.0),
    (2.88, 132.93, 5.1), (2.90, 132.80, 5.1), (2.93, 132.42, 6.0), (2.96, 132.61, 5.1),
    (2.99, 132.52, 6.8), (3.02, 132.76, 5.1), (3.05, 132.66, 6.0), (3.08, 132.44, 5.1),
    (3.11, 132.59, 5.7), (3.14, 132.85, 5.1), (3.17, 132.50, 6.1), (3.20, 132.72, 5.1),
    (3.23, 132.63, 7.1), (3.26, 132.38, 5.1), (3.29, 132.55, 6.0), (3.32, 132.80, 5.1),
    (3.35, 133.08, 7.0), (3.38, 132.68, 5.6), (3.41, 132.47, 5.1), (3.44, 132.94, 6.0),
    (3.47, 132.60, 5.1), (3.50, 132.75, 6.6), (3.53, 132.52, 5.1), (3.56, 132.88, 6.0),
    (3.60, 132.64, 5.1), (3.63, 132.98, 6.0), (3.66, 132.50, 5.1), (3.69, 132.78, 6.1),
    (3.72, 132.58, 5.1), (3.75, 133.20, 5.6), (3.78, 132.70, 7.0), (3.81, 132.45, 5.1),
    (3.84, 132.87, 6.0), (3.87, 132.62, 5.1), (3.90, 133.02, 5.1), (3.93, 132.54, 6.6),
    (3.96, 132.75, 5.1), (3.99, 132.93, 6.0), (4.02, 132.48, 5.1), (4.05, 132.66, 7.1),
    (4.08, 132.83, 5.1), (4.11, 132.57, 6.0), (4.14, 133.05, 5.6), (4.17, 132.70, 5.1),
    (4.18, 133.17, 5.1), (4.20, 133.11, 5.1), (4.23, 132.52, 6.2), (4.26, 132.88, 5.1),
    (4.29, 132.62, 7.0), (4.33, 133.17, 5.6), (4.36, 132.76, 5.1), (4.39, 132.45, 6.0),
    (4.42, 132.95, 7.3), (4.45, 132.68, 5.1), (4.48, 132.38, 7.8), (4.50, 132.56, 6.0),
    (4.52, 132.82, 7.1), (4.55, 132.29, 7.7), (4.56, 132.20, 7.3), (4.58, 132.47, 6.9),
    (4.61, 132.72, 6.0), (4.64, 132.35, 7.0), (4.67, 132.90, 5.1), (4.70, 132.60, 6.2),
    (4.73, 132.42, 6.0), (4.76, 132.78, 5.1), (4.79, 132.52, 6.6),
    (4.82, 132.67, 5.1), (4.85, 132.95, 6.0), (4.88, 132.55, 5.1), (4.91, 132.80, 5.6),
    (4.94, 132.46, 6.1), (4.97, 132.70, 5.1), (5.00, 133.12, 7.1), (5.03, 132.60, 5.1),
    (5.06, 132.88, 6.0), (5.09, 132.51, 5.1), (5.13, 133.18, 6.0), (5.16, 132.74, 5.1),
    (5.19, 132.43, 6.2), (5.22, 132.64, 5.1), (5.25, 132.92, 5.6), (5.28, 132.57, 6.0),
    (5.32, 133.12, 5.1), (5.35, 132.78, 5.1), (5.38, 132.48, 6.7), (5.41, 132.68, 5.1),
    (5.44, 132.99, 6.0), (5.47, 132.58, 5.1), (5.50, 132.84, 5.7), (5.53, 132.41, 5.1),
    (5.56, 132.71, 6.0), (5.59, 132.54, 5.1), (5.62, 133.17, 6.0), (5.65, 132.63, 5.1),
    (5.68, 132.90, 6.3), (5.71, 132.47, 5.1), (5.74, 132.76, 6.0), (5.77, 132.60, 5.1),
    (5.80, 133.03, 5.6), (5.83, 132.52, 5.1), (5.86, 132.81, 6.1), (5.89, 132.66, 5.1),
    (5.92, 133.13, 5.1), (5.95, 132.44, 6.0), (5.98, 132.72, 5.1),
    (6.01, 132.58, 5.1), (6.04, 132.86, 6.0), (6.07, 132.50, 5.1), (6.10, 132.69, 5.6),
    (6.13, 132.95, 5.1), (6.16, 132.62, 6.2), (6.19, 132.44, 5.1), (6.22, 132.77, 6.0),
    (6.25, 133.05, 5.1), (6.28, 132.55, 5.7), (6.31, 132.84, 5.1), (6.34, 132.66, 6.0),
    (6.37, 132.48, 5.1), (6.40, 132.92, 6.6), (6.43, 132.60, 5.1), (6.46, 132.73, 6.0),
    (6.49, 132.41, 5.1), (6.52, 132.88, 5.6), (6.55, 132.57, 5.1), (6.58, 133.00, 6.1),
    (6.61, 132.68, 5.1), (6.64, 132.52, 6.0), (6.67, 132.82, 5.1), (6.70, 132.46, 5.6),
    (6.73, 132.97, 6.8), (6.76, 132.63, 5.1), (6.79, 132.75, 6.0), (6.82, 132.53, 5.1),
    (6.85, 133.08, 6.0), (6.89, 133.15, 7.0), (6.92, 132.70, 5.1), (6.95, 132.58, 6.2),
    (6.98, 132.90, 5.1), (7.01, 132.47, 6.0), (7.04, 133.04, 5.1), (7.07, 132.80, 6.6),
    (7.10, 132.62, 5.1), (7.13, 132.43, 6.0), (7.16, 132.95, 5.1), (7.19, 132.73, 5.6),
    (7.22, 133.00, 6.0), (7.25, 133.15, 6.0), (7.28, 132.58, 7.0), (7.31, 132.85, 5.1),
    (7.34, 132.66, 6.2), (7.37, 133.05, 7.1), (7.40, 133.14, 5.1), (7.43, 132.50, 6.0),
    (7.46, 132.92, 6.8), (7.49, 132.74, 5.6), (7.52, 133.10, 7.0), (7.55, 132.44, 6.1),
    (7.58, 132.82, 7.4), (7.61, 132.62, 6.0), (7.63, 133.07, 7.7), (7.66, 132.96, 6.2),
    (7.69, 132.55, 5.1), (7.72, 132.78, 6.0), (7.75, 133.02, 7.0), (7.78, 132.47, 6.0),
    (7.81, 132.70, 6.6), (7.84, 132.88, 5.6), (7.87, 132.60, 6.0), (7.90, 132.42, 5.1),
    (7.93, 132.83, 6.1), (7.96, 132.52, 6.0), (7.99, 132.73, 5.1), (8.03, 132.43, 5.1),
    (8.06, 132.64, 6.0), (8.09, 132.48, 5.6), (8.12, 132.79, 5.1), (8.15, 132.56, 6.0),
    (8.18, 132.40, 5.1), (8.21, 132.68, 5.6), (8.24, 132.52, 5.1), (8.27, 132.75, 6.0),
    (8.30, 132.45, 5.1), (8.33, 132.60, 5.1),
    (0.63, 132.58, 5.6), (0.69, 132.65, 6.0), (0.73, 132.52, 5.1), (0.79, 132.74, 6.0),
    (0.83, 132.60, 5.1), (0.89, 132.46, 6.0), (0.93, 132.70, 5.6), (0.98, 132.55, 5.1),
    (1.03, 132.62, 6.0), (1.07, 132.78, 5.1), (1.12, 132.50, 6.1), (1.16, 132.66, 5.1),
    (1.21, 132.57, 5.6), (1.25, 132.46, 5.1), (1.30, 132.70, 6.0), (1.34, 132.61, 5.1),
    (1.39, 132.52, 5.1), (1.43, 132.76, 6.0), (1.48, 132.58, 5.1), (1.52, 132.68, 5.6),
    (1.57, 132.44, 5.1), (1.61, 132.62, 6.0), (1.66, 132.74, 5.1), (1.70, 132.53, 5.1),
    (1.75, 132.66, 6.0), (1.79, 132.58, 5.1), (1.84, 132.48, 5.6), (1.88, 132.78, 5.1),
    (1.93, 132.60, 6.0), (1.98, 132.70, 5.1), (2.02, 132.52, 5.1), (2.07, 132.64, 6.0),
    (2.11, 132.58, 5.1), (2.16, 132.74, 5.6), (2.20, 132.48, 5.1), (2.25, 132.62, 6.0),
    (2.29, 132.70, 5.1), (2.34, 132.55, 5.1), (2.38, 132.66, 6.1), (2.42, 132.60, 5.1),
    (2.47, 132.76, 5.1), (2.51, 132.52, 6.0), (2.56, 132.72, 5.1), (2.60, 132.62, 5.6),
    (2.65, 132.48, 5.1), (2.69, 132.68, 6.0), (2.74, 132.58, 5.1), (2.78, 132.82, 5.1),
    (2.83, 132.62, 6.0), (2.87, 132.50, 5.1), (2.92, 132.72, 5.1), (2.97, 132.66, 6.0),
    (3.01, 132.56, 5.1), (3.06, 132.80, 5.1), (3.10, 132.70, 6.0), (3.15, 132.62, 5.1),
    (3.19, 132.46, 5.6), (3.24, 132.78, 5.1), (3.28, 132.66, 6.0), (3.33, 132.58, 5.1),
    (3.37, 132.90, 5.1), (3.42, 132.72, 6.0), (3.46, 132.55, 5.1), (3.51, 132.66, 5.1),
    (3.55, 132.80, 6.0), (3.59, 132.72, 5.1), (3.64, 132.56, 5.6), (3.68, 132.88, 5.1),
    (3.73, 132.66, 6.0), (3.77, 132.94, 5.1), (3.82, 132.60, 5.1), (3.86, 132.76, 6.0),
    (3.91, 132.68, 5.1), (3.95, 132.82, 5.6), (4.00, 132.58, 5.1), (4.04, 132.90, 6.0),
    (4.09, 132.72, 5.1), (4.13, 132.64, 6.2), (4.18, 132.98, 5.1), (4.22, 132.78, 5.6),
    (4.27, 132.55, 5.1), (4.31, 132.70, 6.0), (4.36, 132.92, 5.1), (4.40, 132.62, 7.0),
    (4.45, 132.82, 6.0), (4.49, 132.50, 7.1), (4.54, 132.68, 5.1), (4.58, 132.90, 6.2),
    (4.63, 132.58, 5.1), (4.67, 132.76, 6.0), (4.72, 132.66, 5.1), (4.76, 132.88, 6.1),
    (4.81, 132.58, 5.1), (4.85, 132.72, 6.0), (4.90, 132.64, 5.1), (4.94, 132.85, 5.6),
    (4.99, 132.55, 6.0), (5.03, 132.76, 5.1), (5.08, 132.66, 6.1), (5.12, 132.96, 5.1),
    (5.17, 132.58, 6.0), (5.21, 132.80, 5.1), (5.26, 132.70, 5.6), (5.30, 132.52, 5.1),
    (5.35, 132.88, 6.0), (5.39, 132.62, 5.1), (5.44, 132.74, 5.1), (5.48, 132.66, 6.0),
    (5.53, 132.94, 5.1), (5.57, 132.58, 5.6), (5.62, 132.80, 5.1), (5.66, 132.70, 6.0),
    (5.71, 132.56, 5.1), (5.75, 132.86, 5.1), (5.80, 132.64, 6.0), (5.84, 132.74, 5.1),
    (5.89, 132.50, 5.6), (5.93, 132.92, 5.1), (5.98, 132.60, 6.0), (6.02, 132.78, 5.1),
    (6.07, 132.68, 5.1), (6.11, 132.54, 6.0), (6.16, 132.84, 5.1), (6.20, 132.64, 5.6),
    (6.25, 132.74, 5.1), (6.29, 132.58, 6.0), (6.34, 132.90, 5.1), (6.38, 132.70, 5.1),
    (6.43, 132.52, 6.0), (6.47, 132.80, 5.1), (6.52, 132.64, 5.6), (6.56, 132.76, 5.1),
    (6.61, 132.58, 6.0), (6.65, 132.94, 5.1), (6.70, 132.66, 6.1), (6.74, 132.56, 5.1),
    (6.79, 132.86, 6.0), (6.83, 132.72, 5.1), (6.88, 132.62, 5.6), (6.92, 133.00, 5.1),
    (6.97, 132.76, 6.0), (7.01, 132.66, 5.1), (7.06, 132.56, 6.0), (7.10, 132.88, 5.1),
    (7.15, 132.70, 6.2), (7.19, 132.60, 5.1), (7.24, 132.92, 6.0), (7.28, 132.76, 5.6),
    (7.33, 132.98, 7.0), (7.37, 132.62, 6.0), (7.42, 132.86, 6.6), (7.46, 132.70, 6.0),
    (7.51, 132.96, 5.1), (7.55, 132.58, 6.0), (7.60, 132.90, 7.1), (7.64, 132.74, 6.0),
    (7.69, 132.98, 6.3), (7.73, 132.62, 6.0), (7.78, 132.86, 5.6), (7.82, 132.70, 6.0),
    (7.87, 132.52, 5.1), (7.91, 132.76, 6.0), (7.96, 132.64, 5.6), (8.00, 132.86, 6.0),
    (8.05, 132.56, 5.1), (8.09, 132.70, 6.0), (8.14, 132.62, 5.1), (8.18, 132.52, 5.6),
    (8.23, 132.74, 5.1), (8.27, 132.58, 6.0), (8.32, 132.68, 5.1),
    (8.66, 132.72, 5.1), (8.71, 133.14, 6.0), (8.71, 133.10, 5.1), (8.74, 132.98, 5.6),
    (8.77, 132.62, 5.1), (8.80, 132.78, 6.0), (8.84, 132.55, 5.1), (8.88, 132.70, 5.6),
    (8.92, 132.48, 5.1), (8.96, 132.65, 6.1), (9.00, 132.58, 5.1), (9.04, 132.75, 5.1),
    (9.08, 132.50, 6.0), (9.12, 132.68, 5.1), (9.16, 132.44, 5.6), (9.20, 132.62, 5.1),
    (9.24, 132.80, 6.2), (9.28, 132.53, 5.1), (9.32, 132.70, 6.0), (9.36, 132.46, 5.1),
    (9.40, 132.64, 6.7), (9.44, 132.57, 5.1), (9.48, 132.83, 5.6), (9.52, 132.50, 6.0),
    (9.56, 132.67, 5.1),
    (8.68, 132.64, 5.1), (8.75, 132.70, 6.0), (8.82, 132.60, 5.1), (8.90, 132.74, 5.6),
    (8.97, 132.66, 5.1), (9.05, 132.55, 6.0), (9.12, 132.62, 5.1), (9.20, 132.72, 5.1),
    (9.28, 132.60, 6.0), (9.35, 132.66, 5.1), (9.43, 132.52, 5.6), (9.50, 132.75, 5.1),
    (9.60, 132.60, 5.1), (9.62, 132.41, 5.6), (9.65, 132.78, 7.0), (9.68, 132.53, 6.0),
    (9.70, 132.92, 5.1), (9.72, 133.20, 6.0), (9.72, 133.01, 5.1), (9.74, 133.12, 6.0),
    (9.76, 132.66, 7.3), (9.79, 132.47, 5.1), (9.82, 132.85, 6.1), (9.85, 132.58, 7.5),
    (9.88, 132.72, 5.1), (9.91, 132.50, 6.0), (9.94, 132.63, 7.1), (9.97, 132.44, 5.1),
    (10.00, 132.80, 6.8), (10.03, 132.55, 5.6), (10.06, 132.69, 5.1), (10.09, 132.40, 7.0),
    (10.12, 132.61, 6.0), (10.15, 132.76, 5.1), (10.18, 132.52, 6.2), (10.21, 132.67, 5.1),
    (10.24, 132.46, 5.6), (10.27, 132.58, 6.0), (10.30, 132.73, 5.1), (10.33, 132.50, 6.9),
    (10.36, 132.64, 5.1),
    (9.58, 132.66, 6.0), (9.63, 132.55, 5.1), (9.67, 132.70, 7.0), (9.71, 132.60, 5.1),
    (9.75, 132.82, 6.0), (9.78, 132.62, 7.3), (9.81, 132.54, 5.1), (9.84, 132.70, 6.0),
    (9.87, 132.64, 7.0), (9.90, 132.78, 5.1), (9.93, 132.56, 6.2), (9.96, 132.68, 5.1),
    (9.99, 132.62, 7.2), (10.02, 132.74, 5.1), (10.05, 132.60, 6.0), (10.08, 132.52, 5.1),
    (10.11, 132.70, 6.8), (10.14, 132.62, 5.1), (10.17, 132.58, 6.0), (10.20, 132.74, 5.1),
    (10.23, 132.64, 5.6), (10.26, 132.55, 5.1), (10.29, 132.68, 6.0), (10.32, 132.60, 5.1),
    (10.35, 132.48, 6.0), (10.38, 132.66, 5.1),
    (10.40, 132.55, 5.1), (10.43, 132.70, 6.0), (10.46, 132.45, 5.6), (10.49, 132.62, 5.1),
    (10.52, 132.80, 6.2), (10.55, 132.52, 5.1), (10.58, 132.66, 6.0), (10.61, 132.40, 5.1),
    (10.64, 132.58, 6.8), (10.67, 132.74, 5.1), (10.70, 132.48, 6.0), (10.73, 132.63, 5.6),
    (10.76, 132.35, 6.1), (10.79, 132.55, 5.1), (10.82, 132.70, 6.0), (10.85, 132.44, 5.7),
    (10.88, 132.31, 5.1), (10.91, 132.60, 6.0), (10.94, 132.52, 5.1), (10.97, 132.68, 6.6),
    (11.00, 132.40, 6.0), (11.03, 132.57, 5.1), (11.06, 132.64, 6.0), (11.09, 132.48, 5.1),
    (11.12, 132.73, 6.3), (11.15, 132.55, 5.1),
    (10.42, 132.60, 6.0), (10.45, 132.74, 5.1), (10.48, 132.52, 6.1), (10.51, 132.66, 5.1),
    (10.54, 132.58, 6.0), (10.57, 132.72, 5.6), (10.60, 132.50, 6.0), (10.63, 132.64, 5.1),
    (10.66, 132.56, 6.0), (10.69, 132.68, 5.1), (10.72, 132.46, 6.0), (10.75, 132.60, 5.1),
    (10.78, 132.66, 6.0), (10.81, 132.52, 5.6), (10.84, 132.62, 6.0), (10.87, 132.40, 5.1),
    (10.90, 132.56, 6.0), (10.93, 132.64, 5.1), (10.96, 132.48, 6.0), (10.99, 132.60, 5.1),
    (11.02, 132.70, 6.0), (11.05, 132.52, 5.1), (11.08, 132.62, 6.0), (11.11, 132.58, 5.6),
    (11.14, 132.66, 6.0), (11.17, 132.50, 5.1),
    (11.70, 132.72, 5.1), (11.72, 132.60, 6.0), (11.75, 132.55, 5.1), (11.78, 132.78, 5.1),
    (11.82, 132.66, 6.7), (11.86, 132.50, 5.1), (11.90, 132.62, 5.1), (11.94, 132.45, 6.0),
    (11.97, 132.70, 5.1), (11.99, 132.58, 5.1), (11.74, 132.66, 5.1), (11.80, 132.58, 6.0),
    (11.84, 132.74, 5.1), (11.92, 132.68, 5.1), (11.96, 132.62, 6.0),
]

cmap = LinearSegmentedColormap.from_list('moment', [
    (0.00, '#0000be'), (0.13, '#1e5a96'), (0.23, '#32a064'),
    (0.333, '#64f032'), (0.433, '#aadc1e'), (0.567, '#e1be00'),
    (0.667, '#faa000'), (0.833, '#e15a0a'), (1.00, '#a00000')])
moment_norm = Normalize(*moment_range)
energy_norm = Normalize(*energy_range)

W, H = 1136, 792
fig = plt.figure(figsize=(W / 100, H / 100), dpi=100)


def px_axes(x0, y0, x1, y1):
    return fig.add_axes([x0 / W, 1 - y1 / H, (x1 - x0) / W, (y1 - y0) / H])


def style_axes(ax, ylim, ylabel, height_px):
    ax.set_xlim(*day_limits)
    ax.set_ylim(*ylim)
    ax.xaxis.set_major_locator(FixedLocator([d + 0.5 for d in day_grid]))
    ax.xaxis.set_major_formatter(FixedFormatter(day_labels))
    ax.xaxis.set_minor_locator(MultipleLocator(1))
    ax.yaxis.set_major_locator(MultipleLocator(0.5))
    ax.yaxis.set_minor_locator(MultipleLocator(0.1))
    ax.yaxis.set_major_formatter(FormatStrFormatter('%.1f'))
    ax.tick_params(which='both', direction='out', top=True, right=True,
                   width=1.0, labelsize=15)
    ax.tick_params(axis='x', which='major', length=0, pad=11.5)
    ax.tick_params(axis='x', which='minor', length=3.5)
    ax.tick_params(axis='y', which='major', length=5.5, pad=3)
    ax.tick_params(axis='y', which='minor', length=3.5)
    for d in day_grid:
        ax.axvline(d, color='#8a8a8a', lw=0.8, zorder=0)
    ax.grid(axis='y', which='major', color='#8a8a8a', lw=0.8)
    ax.set_axisbelow(True)
    for sp in ax.spines.values():
        sp.set_linewidth(1.5)
    ax.set_xlabel('May-June 2015', fontsize=15)
    ax.xaxis.set_label_coords(0.5, -41 / height_px)
    ax.set_ylabel(ylabel, fontsize=15, labelpad=5)


def draw_points(ax, pts, norm):
    d, v, c = np.array(pts).T
    ax.scatter(d, v, c=c, cmap=cmap, norm=norm, s=26, linewidths=0, zorder=2)


ax_vm = px_axes(102.3, 37.7, 541.7, 324.3)
ax_tm = px_axes(657.3, 37.7, 1096, 324.3)
ax_vl = px_axes(102.3, 441, 541.7, 725.7)
ax_tl = px_axes(657.3, 441, 1096, 725.7)

style_axes(ax_vm, lat_limits, 'Latitude', 286.6)
style_axes(ax_tm, lat_limits, 'Latitude', 286.6)
style_axes(ax_vl, lon_limits, 'Longitude', 284.7)
style_axes(ax_tl, lon_limits, 'Longitude', 284.7)

draw_points(ax_vm, vlfe_lat_pts, moment_norm)
draw_points(ax_vl, vlfe_lon_pts, moment_norm)
draw_points(ax_tm, tremor_lat_pts, energy_norm)
draw_points(ax_tl, tremor_lon_pts, energy_norm)

ax_vm.set_title('Moments of VLFEs', fontsize=15, pad=7)
ax_tm.set_title('Energies of tremors', fontsize=15, pad=7)

# migration arrows
for ax, (tail, head) in ((ax_vl, vlfe_arrow), (ax_tl, tremor_arrow)):
    ax.annotate('', xy=head, xytext=tail,
                arrowprops=dict(arrowstyle='-|>,head_length=0.6,head_width=0.3',
                                mutation_scale=18, lw=3.5, color='k',
                                shrinkA=0, shrinkB=0), zorder=5)

# colour scales
for (x0, x1), norm, ticks, label in (
        ((75.7, 206.7), moment_norm, moment_ticks, 'log $_{10}$ (Moment [Nm])'),
        ((630, 761), energy_norm, energy_ticks, 'log $_{10}$ (Energy [J])')):
    cax = px_axes(x0, 362, x1, 375)
    cb = fig.colorbar(ScalarMappable(norm=norm, cmap=cmap), cax=cax,
                      orientation='horizontal', ticks=ticks)
    cb.outline.set_linewidth(1.3)
    cax.tick_params(direction='out', length=4, width=1, labelsize=13, pad=3)
    for t in ticks[1:-1]:
        cax.axvline(t, color='k', lw=0.7)
    cb.set_label(label, fontsize=13.5, labelpad=2)

# segment bar beside the tremor longitude panel
trans = mtransforms.blended_transform_factory(ax_tl.transAxes, ax_tl.transData)
for name, lo, hi, col in zip(segment_names, segment_edges[:-1], segment_edges[1:], segment_colors):
    ax_tl.add_patch(Rectangle((1.016, lo), 0.0137, hi - lo, transform=trans,
                              facecolor=col, lw=0, clip_on=False))
    ax_tl.text(1.062, (lo + hi) / 2, name, transform=trans, color=col, fontsize=21,
               family=['Open Sans', 'DejaVu Sans'], ha='center', va='center', clip_on=False)

fig.text(9 / W, 1 - 4 / H, '(g) Migration 2015b', fontsize=15, va='baseline')

fig.savefig('out.png', dpi=100)
